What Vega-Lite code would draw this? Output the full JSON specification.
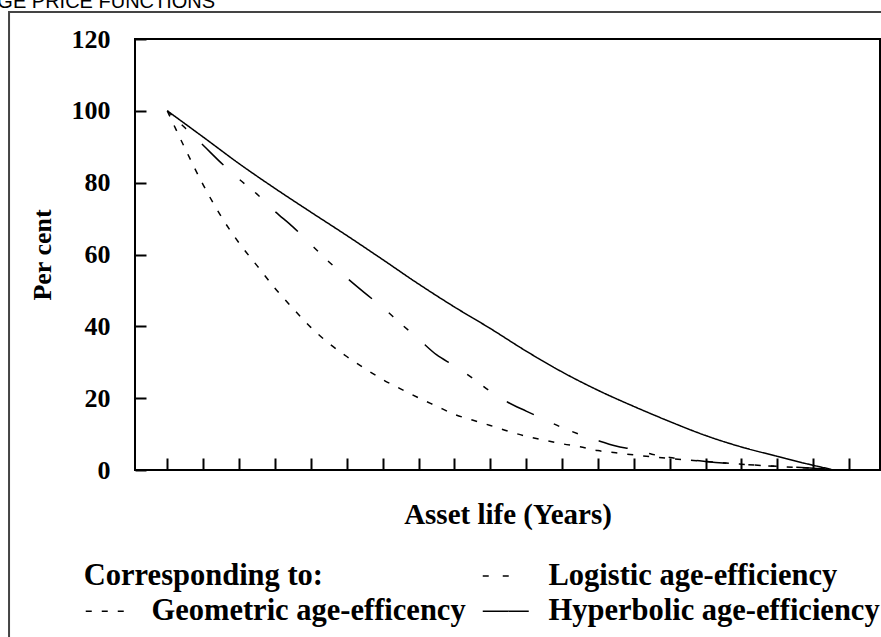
{
  "$schema": "https://vega.github.io/schema/vega-lite/v6.json",
  "autosize": "none",
  "width": 745,
  "height": 431,
  "padding": {"left": 135, "top": 39, "right": 1, "bottom": 167},
  "background": "white",
  "title": {
    "text": "AGE PRICE FUNCTIONS",
    "anchor": "start",
    "frame": "group",
    "orient": "top",
    "offset": 0,
    "baseline": "alphabetic",
    "dx": -151,
    "dy": 17,
    "font": "Liberation Sans",
    "fontSize": 20,
    "fontWeight": "normal",
    "color": "black"
  },
  "config": {
    "view": {"stroke": "black", "strokeWidth": 2}
  },
  "resolve": {"axis": {"x": "independent", "y": "independent"}},
  "layer": [
    {
      "data": {"values": [{}]},
      "mark": {"type": "rect", "fill": null, "fillOpacity": 0, "stroke": "#444444", "strokeWidth": 2, "clip": false},
      "encoding": {
        "x": {"datum": -4.41, "type": "quantitative", "axis": null},
        "x2": {"datum": 21},
        "y": {"datum": 127.5, "type": "quantitative", "axis": null},
        "y2": {"datum": -50}
      }
    },
    {
      "data": {
        "values": [
          {"series": "Hyperbolic age-efficiency", "year": 0, "value": 100},
          {"series": "Hyperbolic age-efficiency", "year": 1, "value": 92.7},
          {"series": "Hyperbolic age-efficiency", "year": 2, "value": 85.3},
          {"series": "Hyperbolic age-efficiency", "year": 3, "value": 78.4},
          {"series": "Hyperbolic age-efficiency", "year": 4, "value": 71.8},
          {"series": "Hyperbolic age-efficiency", "year": 5, "value": 65.3},
          {"series": "Hyperbolic age-efficiency", "year": 6, "value": 58.6},
          {"series": "Hyperbolic age-efficiency", "year": 7, "value": 51.8},
          {"series": "Hyperbolic age-efficiency", "year": 8, "value": 45.4},
          {"series": "Hyperbolic age-efficiency", "year": 9, "value": 39.4},
          {"series": "Hyperbolic age-efficiency", "year": 10, "value": 33.1},
          {"series": "Hyperbolic age-efficiency", "year": 11, "value": 27.3},
          {"series": "Hyperbolic age-efficiency", "year": 12, "value": 22.2},
          {"series": "Hyperbolic age-efficiency", "year": 13, "value": 17.7},
          {"series": "Hyperbolic age-efficiency", "year": 14, "value": 13.5},
          {"series": "Hyperbolic age-efficiency", "year": 15, "value": 9.6},
          {"series": "Hyperbolic age-efficiency", "year": 16, "value": 6.4},
          {"series": "Hyperbolic age-efficiency", "year": 17, "value": 3.8},
          {"series": "Hyperbolic age-efficiency", "year": 18, "value": 1.3},
          {"series": "Hyperbolic age-efficiency", "year": 18.5, "value": 0.2},

          {"series": "Geometric age-efficency", "year": 0, "value": 100},
          {"series": "Geometric age-efficency", "year": 0.5, "value": 89.4},
          {"series": "Geometric age-efficency", "year": 1, "value": 79.4},
          {"series": "Geometric age-efficency", "year": 1.5, "value": 70.6},
          {"series": "Geometric age-efficency", "year": 2, "value": 63.2},
          {"series": "Geometric age-efficency", "year": 2.5, "value": 56.9},
          {"series": "Geometric age-efficency", "year": 3, "value": 50.6},
          {"series": "Geometric age-efficency", "year": 3.5, "value": 45},
          {"series": "Geometric age-efficency", "year": 4, "value": 39.7},
          {"series": "Geometric age-efficency", "year": 4.5, "value": 35.3},
          {"series": "Geometric age-efficency", "year": 5, "value": 31.6},
          {"series": "Geometric age-efficency", "year": 5.5, "value": 28.3},
          {"series": "Geometric age-efficency", "year": 6, "value": 25.2},
          {"series": "Geometric age-efficency", "year": 6.5, "value": 22.6},
          {"series": "Geometric age-efficency", "year": 7, "value": 20.1},
          {"series": "Geometric age-efficency", "year": 7.5, "value": 17.8},
          {"series": "Geometric age-efficency", "year": 8, "value": 15.5},
          {"series": "Geometric age-efficency", "year": 8.5, "value": 13.9},
          {"series": "Geometric age-efficency", "year": 9, "value": 12.4},
          {"series": "Geometric age-efficency", "year": 9.5, "value": 10.8},
          {"series": "Geometric age-efficency", "year": 10, "value": 9.4},
          {"series": "Geometric age-efficency", "year": 10.5, "value": 8.3},
          {"series": "Geometric age-efficency", "year": 11, "value": 7.3},
          {"series": "Geometric age-efficency", "year": 11.5, "value": 6.5},
          {"series": "Geometric age-efficency", "year": 12, "value": 5.4},
          {"series": "Geometric age-efficency", "year": 12.5, "value": 4.8},
          {"series": "Geometric age-efficency", "year": 13, "value": 4.2},
          {"series": "Geometric age-efficency", "year": 14, "value": 3.2},
          {"series": "Geometric age-efficency", "year": 15, "value": 2.4},
          {"series": "Geometric age-efficency", "year": 16, "value": 1.6},
          {"series": "Geometric age-efficency", "year": 17, "value": 1.0},
          {"series": "Geometric age-efficency", "year": 18, "value": 0.5},
          {"series": "Geometric age-efficency", "year": 18.4, "value": 0.3},

          {"series": "Logistic age-efficiency", "year": 0, "value": 100},
          {"series": "Logistic age-efficiency", "year": 0.5, "value": 95.2},
          {"series": "Logistic age-efficiency", "year": 1, "value": 90.4},
          {"series": "Logistic age-efficiency", "year": 1.5, "value": 85.5},
          {"series": "Logistic age-efficiency", "year": 2, "value": 81},
          {"series": "Logistic age-efficiency", "year": 2.5, "value": 76.8},
          {"series": "Logistic age-efficiency", "year": 3, "value": 72},
          {"series": "Logistic age-efficiency", "year": 3.5, "value": 67.7},
          {"series": "Logistic age-efficiency", "year": 4, "value": 62.8},
          {"series": "Logistic age-efficiency", "year": 4.5, "value": 58},
          {"series": "Logistic age-efficiency", "year": 5, "value": 53.5},
          {"series": "Logistic age-efficiency", "year": 5.5, "value": 49.3},
          {"series": "Logistic age-efficiency", "year": 6, "value": 45.3},
          {"series": "Logistic age-efficiency", "year": 6.5, "value": 40.8},
          {"series": "Logistic age-efficiency", "year": 7, "value": 36.5},
          {"series": "Logistic age-efficiency", "year": 7.5, "value": 32.1},
          {"series": "Logistic age-efficiency", "year": 8, "value": 29},
          {"series": "Logistic age-efficiency", "year": 8.5, "value": 25.6},
          {"series": "Logistic age-efficiency", "year": 9, "value": 21.9},
          {"series": "Logistic age-efficiency", "year": 9.5, "value": 18.8},
          {"series": "Logistic age-efficiency", "year": 10, "value": 16.4},
          {"series": "Logistic age-efficiency", "year": 10.5, "value": 14.1},
          {"series": "Logistic age-efficiency", "year": 11, "value": 11.8},
          {"series": "Logistic age-efficiency", "year": 11.5, "value": 9.9},
          {"series": "Logistic age-efficiency", "year": 12, "value": 8.2},
          {"series": "Logistic age-efficiency", "year": 12.5, "value": 6.7},
          {"series": "Logistic age-efficiency", "year": 13, "value": 5.7},
          {"series": "Logistic age-efficiency", "year": 13.5, "value": 4.4},
          {"series": "Logistic age-efficiency", "year": 14, "value": 3.5},
          {"series": "Logistic age-efficiency", "year": 15, "value": 2.4},
          {"series": "Logistic age-efficiency", "year": 16, "value": 1.6},
          {"series": "Logistic age-efficiency", "year": 17, "value": 1.0},
          {"series": "Logistic age-efficiency", "year": 18, "value": 0.5},
          {"series": "Logistic age-efficiency", "year": 18.4, "value": 0.2}
        ]
      },
      "mark": {"type": "line", "color": "black", "strokeWidth": 1.5, "interpolate": "monotone"},
      "encoding": {
        "x": {
          "field": "year",
          "type": "quantitative",
          "scale": {"domain": [-0.9, 19.86], "nice": false, "zero": false},
          "axis": {
            "values": [0,1,2,3,4,5,6,7,8,9,10,11,12,13,14,15,16,17,18,19],
            "labels": false,
            "domain": false,
            "grid": false,
            "ticks": true,
            "tickSize": -12,
            "tickColor": "black",
            "tickWidth": 2,
            "title": "Asset life (Years)",
            "titleFont": "Liberation Serif",
            "titleFontSize": 29,
            "titleFontWeight": "bold",
            "titleColor": "black",
            "titlePadding": 29
          }
        },
        "y": {
          "field": "value",
          "type": "quantitative",
          "scale": {"domain": [0, 120], "nice": false},
          "axis": {
            "values": [0, 20, 40, 60, 80, 100, 120],
            "offset": -11,
            "domain": false,
            "grid": false,
            "ticks": true,
            "tickSize": 11,
            "tickColor": "black",
            "tickWidth": 2,
            "zindex": 2,
            "labelFont": "Liberation Serif",
            "labelFontSize": 26,
            "labelFontWeight": "bold",
            "labelColor": "black",
            "labelPadding": 25,
            "title": "Per cent",
            "titleFont": "Liberation Serif",
            "titleFontSize": 26,
            "titleFontWeight": "bold",
            "titleColor": "black",
            "titlePadding": 16
          }
        },
        "strokeDash": {
          "field": "series",
          "type": "nominal",
          "scale": {
            "domain": ["Corresponding to:", "Logistic age-efficiency", "Geometric age-efficency", "Hyperbolic age-efficiency"],
            "range": [[1, 0], [6, 14, 6, 22, 30, 22], [6, 10], [1, 0]]
          },
          "legend": {
            "orient": "none",
            "legendX": -50.7,
            "legendY": 521.5,
            "direction": "horizontal",
            "columns": 2,
            "title": null,
            "padding": 0,
            "symbolType": "M-1.2,0H2.8",
            "symbolSize": 529,
            "symbolStrokeWidth": 1.5,
            "symbolStrokeColor": "black",
            "symbolFillColor": "transparent",
            "labelFont": "Liberation Serif",
            "labelFontSize": 30.5,
            "labelFontWeight": "bold",
            "labelColor": "black",
            "labelOffset": 36.7,
            "labelLimit": 600,
            "columnPadding": 13,
            "rowPadding": 4.5,
            "encode": {
              "symbols": {
                "update": {
                  "opacity": {"signal": "datum.value === 'Corresponding to:' ? 0 : 1"}
                }
              },
              "labels": {
                "update": {
                  "dx": {"signal": "datum.value === 'Corresponding to:' ? -67.7 : 0"}
                }
              }
            }
          }
        }
      }
    }
  ]
}
